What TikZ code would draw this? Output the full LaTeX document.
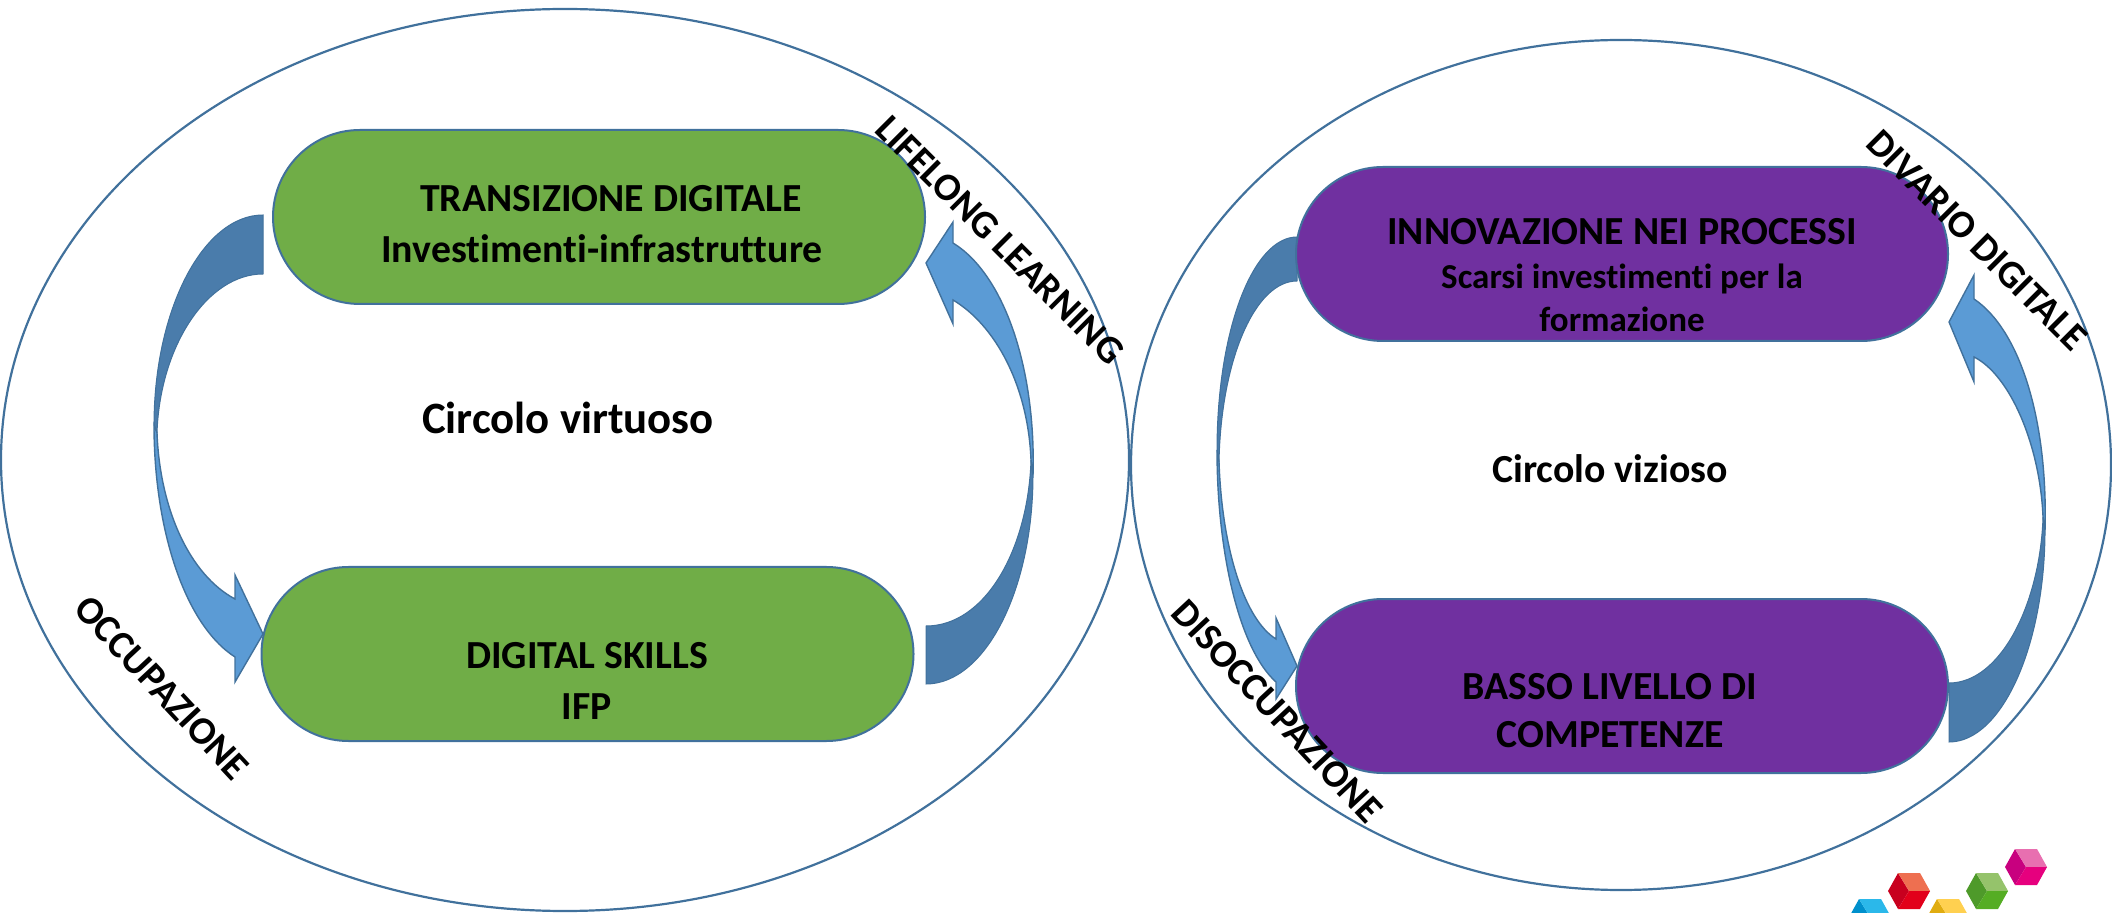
\documentclass[tikz,border=0pt]{standalone}
\usepackage{fontspec}
\setmainfont{Carlito}[RawFeature=-liga]
\definecolor{edgeblue}{HTML}{41719C}
\definecolor{lightarrow}{HTML}{5B9BD5}
\definecolor{darkarrow}{HTML}{4A7CAB}
\definecolor{pillgreen}{HTML}{70AD47}
\definecolor{pillpurple}{HTML}{7030A0}
\definecolor{pinkL}{HTML}{C8007F}\definecolor{pinkT}{HTML}{E86FB0}\definecolor{pinkB}{HTML}{E6007E}
\definecolor{greenL}{HTML}{4E9A2A}\definecolor{greenT}{HTML}{95C36B}\definecolor{greenB}{HTML}{55AD24}
\definecolor{redL}{HTML}{C8001E}\definecolor{redT}{HTML}{EE6F50}\definecolor{redB}{HTML}{E2001A}
\definecolor{yelL}{HTML}{E0AC10}\definecolor{yelT}{HTML}{FFD050}\definecolor{yelB}{HTML}{F5BC1C}
\definecolor{bluL}{HTML}{0090CC}\definecolor{bluT}{HTML}{2BB8EA}\definecolor{bluB}{HTML}{00A0E0}
\tikzset{
  ring/.style={draw=edgeblue,line width=1.1pt,fill=none},
  pill/.style={draw=edgeblue,line width=1pt,rectangle,rounded corners=43.5pt,minimum width=326pt,minimum height=87pt,inner sep=0pt},
  arrowlight/.style={fill=lightarrow,draw=edgeblue,line width=0.7pt,line join=miter},
  arrowdark/.style={fill=darkarrow,draw=edgeblue,line width=0.5pt,line join=miter},
  big/.style={font=\fontsize{19.9}{24}\selectfont\bfseries,inner sep=0pt,text=black},
  bigger/.style={font=\fontsize{22.4}{26}\selectfont\bfseries,inner sep=0pt,text=black},
  small/.style={font=\fontsize{17.5}{21}\selectfont\bfseries,inner sep=0pt,text=black},
  side/.style={font=\fontsize{19.5}{23}\selectfont\bfseries,inner sep=0pt,text=black},
}
\newcommand{\cube}[5]{%
  \begin{scope}[shift={(#1,#2)}]
    \fill[#3] (-21,0)--(-11,-18)--(0,0)--(-11,18)--cycle;
    \fill[#4] (-11,-18)--(11,-18)--(21,0)--(0,0)--cycle;
    \fill[#5] (0,0)--(21,0)--(11,18)--(-11,18)--cycle;
  \end{scope}}
\begin{document}
\begin{tikzpicture}[x=0.5pt,y=-0.5pt]
\useasboundingbox (0,0) rectangle (2112,913);
\clip (0,0) rectangle (2112,913);
% outer rings
\draw[ring] (565,460) ellipse [x radius=564,y radius=451];
\draw[ring] (1621,465) ellipse [x radius=490,y radius=425];
% arrows, left pair
\draw[arrowdark] (263,215) .. controls (203,215) and (154,310) .. (154,425)
  -- (157,433) .. controls (160,345) and (208,274) .. (263,274) -- cycle;
\draw[arrowlight] (154,425) .. controls (154,530) and (185,625) .. (235,657)
  -- (235,682) -- (263,634) -- (235,575) -- (235,599)
  .. controls (190,575) and (160,510) .. (157,433) -- cycle;
% arrows, right pair
\draw[arrowdark] (926,684) .. controls (985,684) and (1033,590) .. (1033,475)
  -- (1031,460) .. controls (1028,550) and (985,626) .. (926,626) -- cycle;
\draw[arrowlight] (1033,475) .. controls (1036,370) and (1005,275) .. (953,243)
  -- (953,222) -- (926,263) -- (953,324) -- (953,300)
  .. controls (995,325) and (1028,385) .. (1031,460) -- cycle;
% arrows, purple left pair
\draw[arrowdark] (1297,237) .. controls (1253,237) and (1217,330) .. (1217,450)
  -- (1219,462) .. controls (1221,360) and (1255,281) .. (1297,281) -- cycle;
\draw[arrowlight] (1217,450) .. controls (1217,555) and (1240,650) .. (1276,682)
  -- (1276,699) -- (1297,666) -- (1276,618) -- (1276,639)
  .. controls (1245,620) and (1222,550) .. (1219,462) -- cycle;
% arrows, purple right pair
\draw[arrowdark] (1949,742) .. controls (2002,742) and (2045,645) .. (2045,530)
  -- (2043,517) .. controls (2040,605) and (2000,683) .. (1949,683) -- cycle;
\draw[arrowlight] (2045,530) .. controls (2048,420) and (2020,330) .. (1974,299)
  -- (1974,275) -- (1949,322) -- (1974,382) -- (1974,357)
  .. controls (2010,375) and (2040,445) .. (2043,517) -- cycle;
% pills
\node[pill,fill=pillgreen] (transizione) at (599,217) {};
\node[pill,fill=pillgreen] (skills) at (587.5,654) {};
\node[pill,fill=pillpurple] (innovazione) at (1622,254) {};
\node[pill,fill=pillpurple] (basso) at (1622,686) {};
% pill labels
\node[big] (t1) at (611,199) {TRANSIZIONE DIGITALE};
\node[big] (t2) at (602,249) {Investimenti-infrastrutture};
\node[big] (s1) at (587,656) {DIGITAL SKILLS};
\node[big] (s2) at (587,707) {IFP};
\node[big] (i1) at (1622,232) {INNOVAZIONE NEI PROCESSI};
\node[small] (i2) at (1622,279) {Scarsi investimenti per la};
\node[small] (i3) at (1622,319) {formazione};
\node[big] (b1) at (1610,687) {BASSO LIVELLO DI};
\node[big] (b2) at (1610,735) {COMPETENZE};
\node[bigger] (cv) at (568,418) {Circolo virtuoso};
\node[big] (cz) at (1610,469) {Circolo vizioso};
% side labels
\node[side,rotate=-45] (ll) at (1000,240) {LIFELONG LEARNING};
\node[side,rotate=-47] (oc) at (162,688) {OCCUPAZIONE};
\node[side,rotate=-47] (di) at (1277,711) {DISOCCUPAZIONE};
\node[side,rotate=-45] (dd) at (1977,240) {DIVARIO DIGITALE};
% logo
\cube{2026}{867}{pinkL}{pinkT}{pinkB}
\cube{1987}{891}{greenL}{greenT}{greenB}
\cube{1909}{891}{redL}{redT}{redB}
\cube{1948}{917}{yelL}{yelT}{yelB}
\cube{1870}{917}{bluL}{bluT}{bluB}
\end{tikzpicture}
\end{document}
